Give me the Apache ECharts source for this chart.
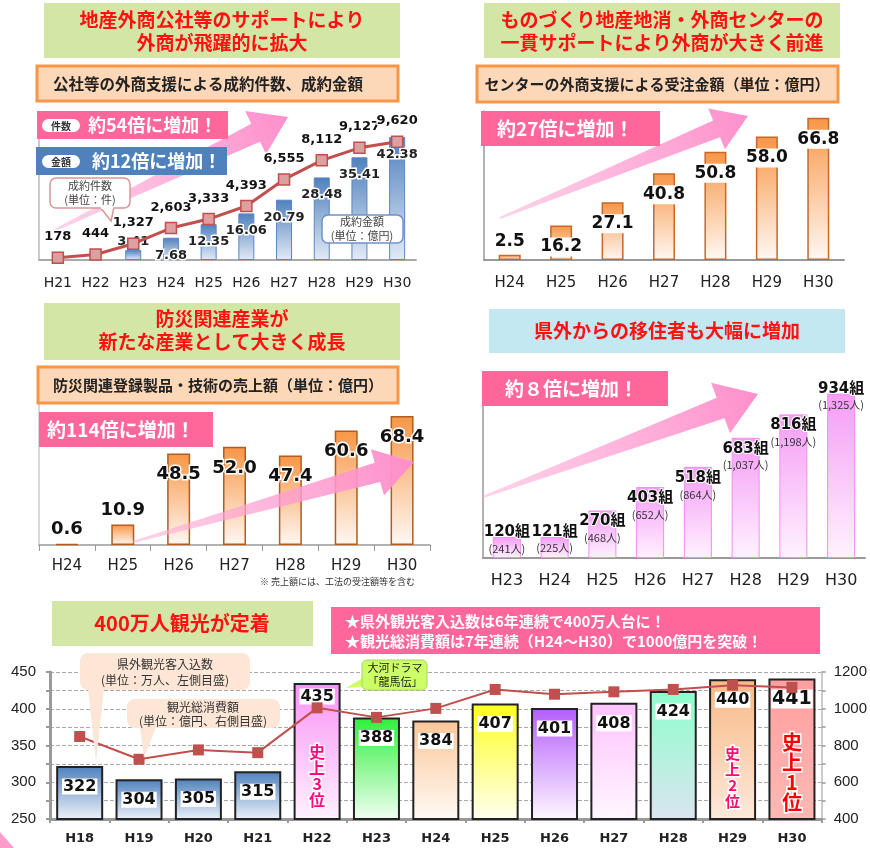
<!DOCTYPE html>
<html>
<head>
<meta charset="utf-8">
<script src="https://cdn.jsdelivr.net/npm/echarts@6/dist/echarts.min.js"></script>
<style>html,body{margin:0;padding:0;background:#fff}#main{width:870px;height:848px}</style>
</head>
<body>
<div id="main"></div>
<script>
var JP = '"Noto Sans CJK JP", sans-serif';
var NUM = '"DejaVu Sans", "Noto Sans CJK JP", sans-serif';
var ARIAL = '"Liberation Sans", Arial, sans-serif';

// 公社等の外商支援による成約件数、成約金額
var yearsA = ['H21','H22','H23','H24','H25','H26','H27','H28','H29','H30'];
var dealCount = [178,444,1327,2603,3333,4393,6555,8112,9127,9620];
var dealAmount = ['-','-',3.41,7.68,12.35,16.06,20.79,28.48,35.41,42.38];
// センターの外商支援による受注金額
var yearsB = ['H24','H25','H26','H27','H28','H29','H30'];
var centerAmount = [2.5,16.2,27.1,40.8,50.8,58.0,66.8];
// 防災関連登録製品・技術の売上額
var bousaiSales = [0.6,10.9,48.5,52.0,47.4,60.6,68.4];
// 県外からの移住者
var yearsC = ['H23','H24','H25','H26','H27','H28','H29','H30'];
var migrantGroups = [120,121,270,403,518,683,816,934];
var migrantPeople = [241,225,468,652,864,1037,1198,1325];
// 観光
var yearsD = ['H18','H19','H20','H21','H22','H23','H24','H25','H26','H27','H28','H29','H30'];
var visitors = [322,304,305,315,435,388,384,407,401,408,424,440,441];
var spending = [849,725,776,761,1005,953,1002,1105,1079,1092,1105,1128,1116];
var recordRank = {4:'3', 11:'2', 12:'1'};

// 棒の色（上,下）
var tourColors = [
  ['#4f81bd','#eef3fa'],['#4f81bd','#eef3fa'],['#4f81bd','#eef3fa'],['#4f81bd','#eef3fa'],
  ['#f993f5','#fff2fe'],['#2ef03a','#f2fff4'],['#fbc69a','#fffaf5'],['#ffff1e','#fffff2'],
  ['#b45cff','#fff8ff'],['#ffc2ff','#fff8ff'],['#8dffcc','#dbe4f0'],['#f8b985','#fde9db'],
  ['#ff9f9f','#ffb8b4']
];

function fmt(n){ return String(n).replace(/\B(?=(\d{3})+(?!\d))/g, ','); }
function grad(top, bottom){
  return new echarts.graphic.LinearGradient(0,0,0,1,[{offset:0,color:top},{offset:1,color:bottom}]);
}

var chart = echarts.init(document.getElementById('main'));

// ---- graphic helpers
function box(x,y,w,h,fill,stroke,lw,r,z){
  return {type:'rect', z:z||100, shape:{x:x,y:y,width:w,height:h,r:r||0},
    style:{fill:fill, stroke:stroke||null, lineWidth:lw||0}};
}
function txt(x,y,s,size,color,weight,align,z){
  return {type:'text', z:z||101, x:x, y:y,
    style:{text:s, font:(weight||'bold')+' '+size+'px '+JP, fill:color, align:align||'center', verticalAlign:'middle'}};
}
function tri(points,fill,stroke,z){
  return {type:'polygon', z:z||99, shape:{points:points}, style:{fill:fill, stroke:stroke||null, lineWidth:stroke?1.5:0}};
}
function arrow(tail, tip, w0, ws, hw, hl, z){
  var dx=tip[0]-tail[0], dy=tip[1]-tail[1], L=Math.sqrt(dx*dx+dy*dy);
  var ux=dx/L, uy=dy/L, nx=-uy, ny=ux;
  var nk=[tip[0]-ux*hl, tip[1]-uy*hl];
  function p(b,s){ return [b[0]+nx*s, b[1]+ny*s]; }
  return {type:'polygon', z:z, shape:{points:[p(tail,w0),p(nk,ws),p(nk,hw),tip,p(nk,-hw),p(nk,-ws),p(tail,-w0)]},
    style:{fill:new echarts.graphic.LinearGradient(0,1,1,0,[{offset:0,color:'rgba(255,175,215,0.55)'},{offset:1,color:'#ff8ecb'}])}};
}
function pill(x,y,s){
  return [box(x,y,38,13,'#fff',null,0,7,102), txt(x+19,y+7,s,10,'#333','bold','center',103)];
}

var graphics = [
  // 1
  box(44,3,356,55,'#d3e6a6'),
  txt(222,20,'地産外商公社等のサポートにより',19,'#ff1111'),
  txt(222,43,'外商が飛躍的に拡大',19,'#ff1111'),
  box(37,66,361,35,'#fcd7b8','#f79646',3),
  txt(53,84,'公社等の外商支援による成約件数、成約金額',15.5,'#222','bold','left'),
  arrow([53,231],[288,117],1,10,24,36,1),
  box(37,111,191,28,'#ff6699'),
  txt(88,125,'約54倍に増加！',18,'#fff','bold','left'),
  box(36,147,191,28,'#4f81bd'),
  txt(92,161,'約12倍に増加！',18,'#fff','bold','left'),
  box(50,178,80,30,'#fff','#d99694',1.5,6,100),
  tri([[100,207],[111,221],[114,207]],'#fff','#d99694',99),
  box(100.8,205,12.5,4,'#fff',null,0,0,101),
  txt(90,186,'成約件数',11,'#444','normal','center',102),
  txt(90,200,'(単位：件)',11,'#444','normal','center',102),
  box(322,215,81,28,'#fff','#6f93c8',1.5,6,100),
  txt(362,222,'成約金額',11,'#444','normal','center',102),
  txt(362,236,'(単位：億円)',11,'#444','normal','center',102),
  // 2
  box(484,3,356,55,'#d3e6a6'),
  txt(662,20,'ものづくり地産地消・外商センターの',19,'#ff1111'),
  txt(662,43,'一貫サポートにより外商が大きく前進',19,'#ff1111'),
  box(477,66,361,36,'#fcd7b8','#f79646',3),
  txt(657,84,'センターの外商支援による受注金額（単位：億円）',15,'#222'),
  arrow([500,218],[748,116],1,9,22,34,1),
  box(481,111,179,35,'#ff6699'),
  txt(497,129,'約27倍に増加！',19,'#fff','bold','left'),
  // 3
  box(44,303,356,57,'#d3e6a6'),
  txt(222,319,'防災関連産業が',19,'#ff1111'),
  txt(222,342,'新たな産業として大きく成長',19,'#ff1111'),
  box(38,367,360,36,'#fcd7b8','#f79646',3),
  txt(218,385,'防災関連登録製品・技術の売上額（単位：億円）',15,'#222'),
  arrow([133,542],[414,462],1,10,24,38,5),
  box(39,412,174,35,'#ff6699'),
  txt(47,430,'約114倍に増加！',19,'#fff','bold','left'),
  txt(415,582,'※ 売上額には、工法の受注額等を含む',9,'#333','normal','right'),
  // 4
  box(489,309,356,44,'#c3e8f2'),
  txt(667,331,'県外からの移住者も大幅に増加',19,'#ff1111'),
  arrow([483,497],[758,394],1,11,27,40,5),
  box(482,371,186,35,'#ff6699'),
  txt(505,389,'約８倍に増加！',19,'#fff','bold','left'),
  // 5
  box(52,601,261,45,'#d3e6a6'),
  txt(182,623,'400万人観光が定着',20,'#ff1111'),
  box(331,607,489,47,'#ff6699'),
  txt(345,621,'★県外観光客入込数は6年連続で400万人台に！',15,'#fff','bold','left'),
  txt(345,641,'★観光総消費額は7年連続（H24〜H30）で1000億円を突破！',15,'#fff','bold','left'),
  box(80,653,170,37,'#fde6d5',null,0,8,100),
  tri([[88,689],[96,762],[104,689]],'#fde6d5',null,99),
  txt(165,664,'県外観光客入込数',12,'#333','normal','center',102),
  txt(165,680,'(単位：万人、左側目盛)',12,'#333','normal','center',102),
  box(127,699,153,29,'#fde6d5',null,0,8,100),
  tri([[140,727],[144,758],[156,727]],'#fde6d5',null,99),
  txt(203,707,'観光総消費額',12,'#333','normal','center',102),
  txt(203,721,'(単位：億円、右側目盛)',12,'#333','normal','center',102),
  box(362,660,65,30,'#ccff66','#a8d060',1,5,100),
  tri([[366,676],[346,688],[368,686]],'#ccff66',null,99),
  txt(395,668,'大河ドラマ',11,'#222','normal','center',102),
  txt(395,682,'「龍馬伝」',11,'#222','normal','center',102),
  tri([[0,832],[14,848],[0,848]],'#ff9ccc',null,1)
].concat(pill(42,119,'件数'), pill(42,155,'金額'));

// ---- axes
var catLabel = function(size, margin, weight){
  return {interval:0, fontSize:size, color:'#222', fontFamily:NUM, margin:margin, fontWeight:weight||'normal'};
};
var xAxes = [
  {gridIndex:0, type:'category', data:yearsA, axisLine:{lineStyle:{color:'#aaa', width:2}}, axisTick:{show:false}, axisLabel:catLabel(14,16)},
  {gridIndex:1, type:'category', data:yearsB, axisLine:{lineStyle:{color:'#999', width:2}}, axisTick:{show:false}, axisLabel:catLabel(15,16)},
  {gridIndex:2, type:'category', data:yearsB, axisLine:{lineStyle:{color:'#999', width:1.5}}, axisTick:{show:true, length:6, lineStyle:{color:'#999'}}, axisLabel:catLabel(15,14)},
  {gridIndex:3, type:'category', data:yearsC, axisLine:{lineStyle:{color:'#999', width:2}}, axisTick:{show:false}, axisLabel:catLabel(16,15)},
  {gridIndex:4, type:'category', data:yearsD, axisLine:{lineStyle:{color:'#999', width:3}}, axisTick:{show:true, length:4, lineStyle:{color:'#999', width:2}}, axisLabel:catLabel(13,13,'bold')}
];
function hiddenY(grid, max, lineColor){
  return {gridIndex:grid, type:'value', min:0, max:max, splitLine:{show:false}, axisLabel:{show:false}, axisTick:{show:false},
    axisLine:{show:!!lineColor, lineStyle:{color:lineColor||'#aaa', width:1.5}}};
}
var yAxes = [
  hiddenY(0, 50, '#bbb'),
  {gridIndex:0, type:'value', min:0, max:11800, show:false, splitLine:{show:false}},
  hiddenY(1, 70, '#999'),
  hiddenY(2, 80, '#ccc'),
  hiddenY(3, 1000, '#999'),
  {gridIndex:4, type:'value', min:250, max:450, interval:25, position:'left',
    axisLine:{show:true, lineStyle:{color:'#999', width:3}}, axisTick:{show:true, length:4, lineStyle:{color:'#999', width:2}},
    axisLabel:{fontSize:15, color:'#222', fontFamily:ARIAL, margin:14, formatter:function(v){ return v % 50 === 0 ? v : ''; }},
    splitLine:{show:true, lineStyle:{color:'#aaa', type:'dashed', width:1}}},
  {gridIndex:4, type:'value', min:400, max:1200, interval:100, position:'right',
    axisLine:{show:true, lineStyle:{color:'#bbb', width:1.5}}, axisTick:{show:true, length:4, lineStyle:{color:'#999', width:1.5}},
    axisLabel:{fontSize:15, color:'#222', fontFamily:ARIAL, margin:12, formatter:function(v){ return v % 200 === 0 ? v : ''; }},
    splitLine:{show:false}}
];

var numLabel = function(size){
  return {show:true, fontSize:size, fontWeight:'bold', color:'#111', fontFamily:NUM, textBorderColor:'#fff', textBorderWidth:3};
};

// ---- series
var amountData = dealAmount.map(function(v, i){
  var d = {value:v};
  if (i === 2) d.label = {position:'top', distance:2};
  return d;
});
var centerData = centerAmount.map(function(v, i){
  var d = {value:v};
  if (i === 0) d.label = {position:'top', distance:4};
  return d;
});
var bousaiData = bousaiSales.map(function(v, i){
  var d = {value:v};
  if (i < 2) d.label = {position:'top', distance:5};
  return d;
});
var migrantData = migrantGroups.map(function(v, i){
  var d = {value:v};
  if (i < 2 || i === 7) d.label = {offset:[0,-16]};
  return d;
});
var tourData = visitors.map(function(v, i){
  var d = {value:v, itemStyle:{color:grad(tourColors[i][0], tourColors[i][1])}};
  if (i === 4) d.label = {distance:4};
  return d;
});

var series = [
  {type:'bar', name:'成約金額', xAxisIndex:0, yAxisIndex:0, data:amountData, barWidth:16, z:2,
    itemStyle:{color:grad('#4f81bd','#e2eaf5'), borderColor:'#5b86c2', borderWidth:1},
    label:Object.assign(numLabel(13), {position:'insideTop', distance:11, color:'#222',
      formatter:function(p){ return p.value.toFixed(2); }})},
  {type:'line', name:'成約件数', xAxisIndex:0, yAxisIndex:1, data:dealCount, z:3,
    symbol:'rect', symbolSize:11, lineStyle:{color:'#c0504d', width:3},
    itemStyle:{color:'#dca0a0', borderColor:'#c0504d', borderWidth:1.5},
    label:Object.assign(numLabel(13), {position:'top', distance:8, formatter:function(p){ return fmt(p.value); }})},
  {type:'bar', xAxisIndex:1, yAxisIndex:2, data:centerData, barWidth:22,
    itemStyle:{color:grad('#f79646','#fff8f3'), borderColor:'#c8682a', borderWidth:1.5},
    label:Object.assign(numLabel(17), {position:'insideTop', distance:12, backgroundColor:'#fff', padding:[1,1],
      textBorderWidth:0, formatter:function(p){ return p.value.toFixed(1); }})},
  {type:'bar', xAxisIndex:2, yAxisIndex:3, data:bousaiData, barWidth:23,
    itemStyle:{color:grad('#f79646','#fff8f3'), borderColor:'#b25d1f', borderWidth:1.5},
    label:Object.assign(numLabel(18), {position:'insideTop', distance:12, formatter:function(p){ return p.value.toFixed(1); }})},
  {type:'bar', xAxisIndex:3, yAxisIndex:4, data:migrantData, barWidth:28,
    itemStyle:{color:grad('#f59cf5','#fff2ff'), borderColor:'#f28cf2', borderWidth:1},
    label:{show:true, position:'insideTop', distance:2,
      formatter:function(p){ return '{a|' + p.value + '組}\n{b|(' + fmt(migrantPeople[p.dataIndex]) + '人)}'; },
      rich:{a:{fontSize:15, fontWeight:'bold', color:'#111', fontFamily:NUM, lineHeight:18, textBorderColor:'#fff', textBorderWidth:2},
            b:{fontSize:11, color:'#333', fontFamily:JP, lineHeight:15}}}},
  {type:'bar', name:'県外観光客入込数', xAxisIndex:4, yAxisIndex:5, data:tourData, barWidth:47,
    itemStyle:{borderColor:'#222', borderWidth:2},
    label:{show:true, position:'insideTop', distance:11,
      formatter:function(p){
        var i = p.dataIndex, s = '{' + (i === 12 ? 'vb' : 'v') + '|' + p.value + '}';
        var r = recordRank[i];
        if (r) {
          var k = 'r' + r;
          s += '\n{g' + r + '| }\n{' + k + '|史}\n{' + k + '|上}\n{' + k + '|' + r + '}\n{' + k + '|位}';
        }
        return s;
      },
      rich:{
        v:{fontSize:16, fontWeight:'bold', color:'#111', fontFamily:NUM, backgroundColor:'#fff', padding:[0,1], lineHeight:19},
        vb:{fontSize:19, fontWeight:'bold', color:'#111', fontFamily:NUM, backgroundColor:'#fff', padding:[0,1], lineHeight:19},
        g3:{lineHeight:38, fontSize:8}, g2:{lineHeight:36, fontSize:8}, g1:{lineHeight:24, fontSize:8},
        r3:{fontSize:16, lineHeight:16, fontWeight:'bold', color:'#ff0a84', fontFamily:JP, textBorderColor:'#fff', textBorderWidth:3},
        r2:{fontSize:15, lineHeight:16, fontWeight:'bold', color:'#ff0a6e', fontFamily:JP, textBorderColor:'#fff', textBorderWidth:3},
        r1:{fontSize:20, lineHeight:20, fontWeight:'bold', color:'#ff0000', fontFamily:JP, textBorderColor:'#fff', textBorderWidth:3}
      }}},
  {type:'line', name:'観光総消費額', xAxisIndex:4, yAxisIndex:6, data:spending, z:4,
    symbol:'rect', symbolSize:11, lineStyle:{color:'#c0504d', width:2},
    itemStyle:{color:'#c0504d'}}
];

chart.setOption({
  animation:false,
  textStyle:{fontFamily:JP},
  grid:[
    {left:39, top:115, width:377, height:145},
    {left:484, top:111, width:360, height:149},
    {left:39, top:394, width:391, height:151},
    {left:483, top:382, width:382, height:176},
    {left:50, top:672, width:780, height:147}
  ],
  xAxis:xAxes,
  yAxis:yAxes,
  series:series,
  graphic:graphics
});
</script>
</body>
</html>
